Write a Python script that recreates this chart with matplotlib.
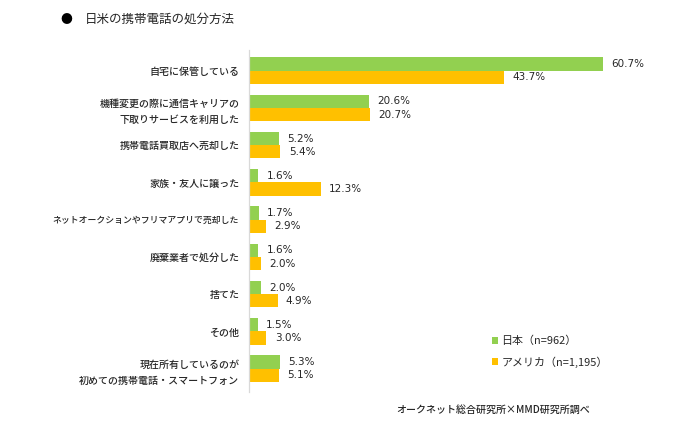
import matplotlib
matplotlib.use("Agg")
from matplotlib import pyplot as plt
from matplotlib.patches import Patch

plt.rcParams['font.family'] = ['Noto Sans CJK JP', 'DejaVu Sans']

# data
categories = [
    "自宅に保管している",
    "機種変更の際に通信キャリアの\n下取りサービスを利用した",
    "携帯電話買取店へ売却した",
    "家族・友人に譲った",
    "ネットオークションやフリマアプリで売却した",
    "廃棄業者で処分した",
    "捨てた",
    "その他",
    "現在所有しているのが\n初めての携帯電話・スマートフォン",
]
japan = [60.7, 20.6, 5.2, 1.6, 1.7, 1.6, 2.0, 1.5, 5.3]
usa = [43.7, 20.7, 5.4, 12.3, 2.9, 2.0, 4.9, 3.0, 5.1]
series_labels = ["日本（n=962）", "アメリカ（n=1,195）"]
title = "日米の携帯電話の処分方法"
source = "オークネット総合研究所×MMD研究所調べ"

GREEN = "#92D050"
ORANGE = "#FFC000"
TEXT = "#262626"

W, H = 700, 424
fig = plt.figure(figsize=(W / 100, H / 100), dpi=100)
ax = fig.add_axes([249 / W, 1 - 392 / H, (657 - 249) / W, (392 - 50) / H])

pos = list(range(len(categories)))
bar_h = 0.357
ax.barh([p - bar_h / 2 for p in pos], japan, height=bar_h, color=GREEN, label=series_labels[0])
ax.barh([p + bar_h / 2 for p in pos], usa, height=bar_h, color=ORANGE, label=series_labels[1])

ax.set_xlim(0, 70)
ax.set_ylim(8.626, -0.556)

for p, v in zip(pos, japan):
    ax.annotate(f"{v:.1f}%", (v, p - bar_h / 2), xytext=(6, 0), textcoords="offset points",
                va="center", ha="left", fontsize=7.5, family="DejaVu Sans", color=TEXT)
for p, v in zip(pos, usa):
    ax.annotate(f"{v:.1f}%", (v, p + bar_h / 2), xytext=(6, 0), textcoords="offset points",
                va="center", ha="left", fontsize=7.5, family="DejaVu Sans", color=TEXT)

ax.set_yticks(pos)
ax.set_yticklabels(categories, fontsize=7.2, color=TEXT, linespacing=1.75, weight="medium")
# katakana in the original font is narrow, so the long label is set a bit smaller
ax.get_yticklabels()[4].set_fontsize(6.4)
ax.tick_params(axis="y", length=0, pad=7)
ax.set_xticks([])
for s in ["top", "right", "bottom"]:
    ax.spines[s].set_visible(False)
ax.spines["left"].set_color("#D9D9D9")
ax.spines["left"].set_linewidth(0.9)

handles = [Patch(facecolor=GREEN), Patch(facecolor=ORANGE)]
fig.legend(handles, series_labels, loc="upper left", bbox_to_anchor=(492 / W, 1 - 336 / H),
           frameon=False, fontsize=7.9, handlelength=0.55, handleheight=0.55,
           handletextpad=0.3, labelspacing=0.9, borderpad=0, borderaxespad=0,
           labelcolor=TEXT)

fig.text(66 / W, 1 - 19 / H, "●", fontsize=8.5, ha="center", va="center", color="black")
fig.text(85 / W, 1 - 19 / H, title, fontsize=9, ha="left", va="center", color=TEXT)
fig.text(396 / W, 1 - 410 / H, source, fontsize=7.2, ha="left", va="center", color=TEXT,
         weight="medium")

fig.savefig("out.png", dpi=100, facecolor="white")
